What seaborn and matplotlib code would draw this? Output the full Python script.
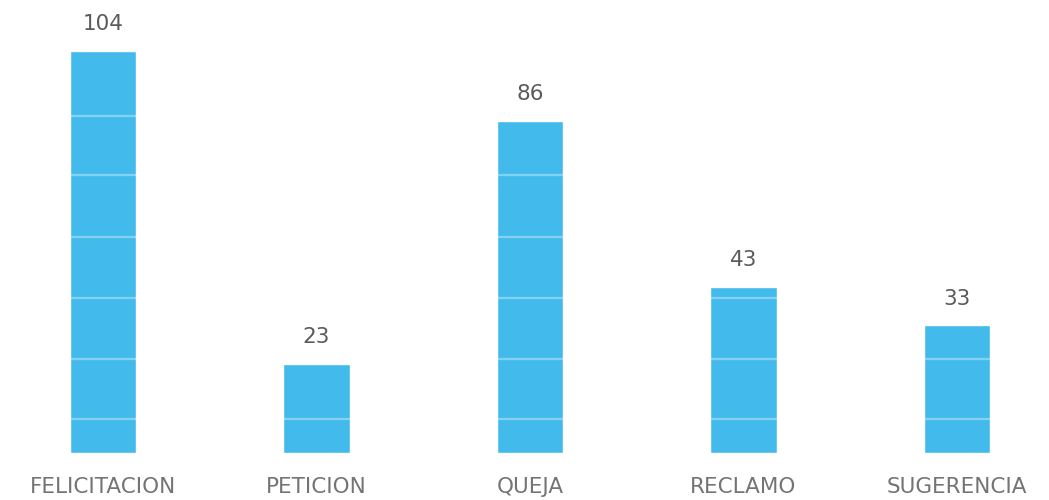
import matplotlib
matplotlib.use("Agg")
import matplotlib.pyplot as plt
import seaborn as sns
import pandas as pd

categorias = ["FELICITACION", "PETICION", "QUEJA", "RECLAMO", "SUGERENCIA"]
cantidades = [104, 23, 86, 43, 33]
lineas_guia = [8.8, 24.4, 40.1, 55.9, 71.9, 87.3]

df = pd.DataFrame({"tipo": categorias, "cantidad": cantidades})

sns.set_theme(style="white")
plt.rcParams["font.family"] = ["DejaVu Sans"]

fig = plt.figure(figsize=(10.49, 5.0), dpi=100)
ax = fig.add_axes([0.0, 0.094, 1.0, 0.906])

sns.barplot(data=df, x="tipo", y="cantidad", color="#42bbec",
            saturation=1, width=0.31, ax=ax, zorder=2)

# faint white guide lines crossing the bars
ax.set_yticks(lineas_guia)
ax.yaxis.grid(True, color="white", alpha=0.35, linewidth=1.6, zorder=3)
ax.set_axisbelow(False)
ax.tick_params(axis="y", left=False, labelleft=False)

ax.set_xlim(-0.4824, 4.431)
ax.set_ylim(0, 117.2)

for c in ax.containers:
    ax.bar_label(c, labels=[str(v) for v in cantidades], padding=12,
                 fontsize=15.5, color="#5a5a5a")

ax.tick_params(axis="x", length=0, pad=17, labelsize=15.5, labelcolor="#747474")
ax.set_xlabel("")
ax.set_ylabel("")
for s in ax.spines.values():
    s.set_visible(False)

fig.savefig("out.png", dpi=100, facecolor="white")
